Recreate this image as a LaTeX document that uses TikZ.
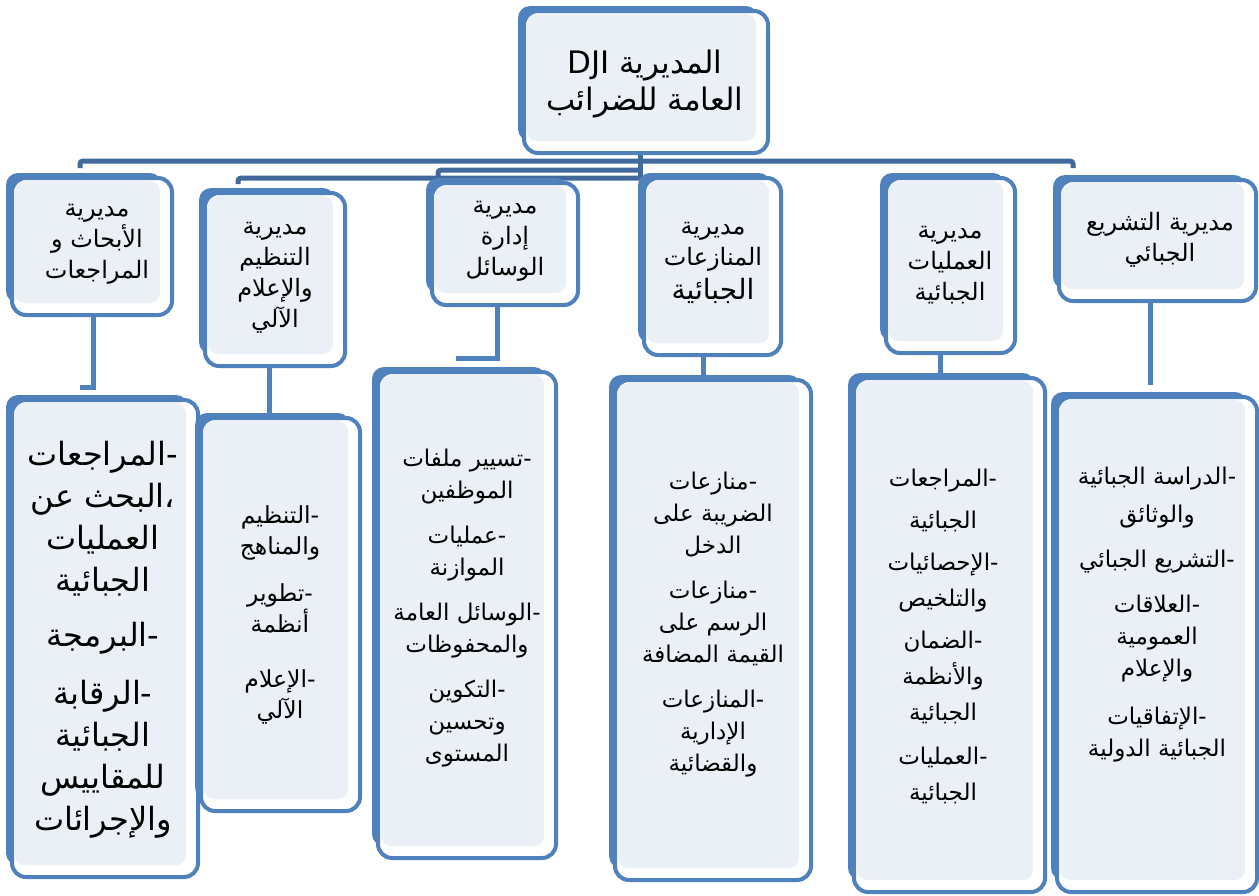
\documentclass[tikz,border=0pt]{standalone}
\usepackage{fontspec}
\usepackage{tikz}
\newfontfamily\arabicfont[Script=Arabic]{DejaVu Sans}
\TeXXeTstate=1
\definecolor{boxblue}{HTML}{4F81BD}
\definecolor{linkblue}{HTML}{41699C}
\definecolor{boxfill}{HTML}{EBF0F7}
\newcommand{\ar}[1]{\beginR #1\endR}
% a task line: the dash stands at the right end of the line
\newcommand{\task}[1]{\beginR #1\endR\mbox{-}}
\newcommand{\dirbox}[4]{%
  \fill[backshape] (#1,#2) rectangle (#3-12,#4-14);
  \draw[frontshape] (#1+6,#2+5) rectangle (#3-2,#4-2);
  \fill[innershape] (#1+9,#2+8) rectangle (#3-14,#4-14);
}
\tikzset{
  backshape/.style={fill=boxblue, rounded corners=12pt},
  frontshape/.style={draw=boxblue, line width=4pt, fill=white, rounded corners=14pt},
  innershape/.style={fill=boxfill, rounded corners=10pt},
  busline/.style={draw=linkblue, line width=5pt, rounded corners=3pt},
  stubline/.style={draw=boxblue, line width=5pt},
  roottext/.style={align=center, inner sep=0pt, font=\arabicfont\fontsize{31}{37}\selectfont},
  toptext/.style={align=center, inner sep=0pt, font=\arabicfont\fontsize{24}{31}\selectfont},
  listtext/.style={align=center, inner sep=0pt, font=\arabicfont\fontsize{23}{32}\selectfont},
  bigtext/.style={align=center, inner sep=0pt, font=\arabicfont\fontsize{32}{42}\selectfont},
}

\begin{document}
\begin{tikzpicture}[x=1pt,y=-1pt]
\useasboundingbox (0,0) rectangle (1259,895);
% bus lines under the root
\coordinate (rootb) at (640,150);
\coordinate (bus1l) at (80,168);
\coordinate (bus1m) at (640,161);
\coordinate (bus1r) at (1073,168);
\coordinate (bus2l) at (438,176);
\coordinate (bus2m) at (640,170);
\coordinate (bus3l) at (238,184);
\coordinate (bus3m) at (640,178);
\draw[busline] (bus1l) |- (bus1m) -| (bus1r);
\draw[busline] (bus2l) |- (bus2m);
\draw[busline] (bus3l) |- (bus3m);
\draw[busline] (rootb) -- (bus3m);
% stubs from the directorates to their task lists
\coordinate (t1s) at (93,310);  \coordinate (t1e) at (80,387);
\coordinate (t2s) at (269,360); \coordinate (t2e) at (269,413);
\coordinate (t3s) at (497,300); \coordinate (t3e) at (456,358);
\coordinate (t4s) at (703,350); \coordinate (t4e) at (703,375);
\coordinate (t5s) at (940,350); \coordinate (t5e) at (940,373);
\coordinate (t6s) at (1150,300); \coordinate (t6e) at (1150,385);
\draw[stubline] (t1s) |- (t1e);
\draw[stubline] (t2s) -- (t2e);
\draw[stubline] (t3s) |- (t3e);
\draw[stubline] (t4s) -- (t4e);
\draw[stubline] (t5s) -- (t5e);
\draw[stubline] (t6s) -- (t6e);
% boxes
\dirbox{518}{6}{770}{155}
\dirbox{6}{173}{174}{317}
\dirbox{199}{188}{347}{368}
\dirbox{426}{178}{580}{307}
\dirbox{638}{173}{783}{357}
\dirbox{880}{173}{1017}{355}
\dirbox{1053}{175}{1258}{303}
\dirbox{6}{395}{200}{879}
\dirbox{195}{413}{362}{813}
\dirbox{372}{367}{558}{860}
\dirbox{609}{375}{813}{882}
\dirbox{848}{373}{1047}{894}
\dirbox{1051}{392}{1259}{894}
% texts
\node[roottext] (root) at (645,84) {\ar{المديرية \beginL DJI\endL{}}\\\ar{العامة للضرائب}};
\node[toptext] (t1) at (97,244) {\ar{مديرية}\\\ar{الأبحاث و}\\\ar{المراجعات}};
\node[toptext] (t2) at (275,278) {\ar{مديرية}\\\ar{التنظيم}\\\ar{والإعلام}\\\ar{الآلي}};
\node[toptext] (t3) at (505,241) {\ar{مديرية}\\\ar{إدارة}\\\ar{الوسائل}};
\node[toptext] (t4) at (713,263) {\ar{مديرية}\\\ar{المنازعات}\\[3pt]{\fontsize{28}{31}\selectfont\ar{الجبائية}}};
\node[toptext] (t5) at (950,265) {\ar{مديرية}\\\ar{العمليات}\\\ar{الجبائية}};
\node[toptext] (t6) at (1160,240) {\ar{مديرية التشريع}\\\ar{الجبائي}};
\node[bigtext] (b1) at (103,640) {\task{المراجعات}\\\ar{البحث عن}\mbox{،}\\\ar{العمليات}\\\ar{الجبائية}\\[13pt]\task{البرمجة}\\[16pt]\task{الرقابة}\\\ar{الجبائية}\\\ar{للمقاييس}\\\ar{والإجرائات}};
\node[listtext, font=\arabicfont\fontsize{23.5}{31}\selectfont] (b2) at (280,615) {\task{التنظيم}\\\ar{والمناهج}\\[16pt]\task{تطوير}\\\ar{أنظمة}\\[24pt]\task{الإعلام}\\\ar{الآلي}};
\node[listtext] (b3) at (467,608) {\task{تسيير ملفات}\\\ar{الموظفين}\\[13pt]\task{عمليات}\\\ar{الموازنة}\\[13pt]\task{الوسائل العامة}\\\ar{والمحفوظات}\\[13pt]\task{التكوين}\\\ar{وتحسين}\\\ar{المستوى}};
\node[listtext] (b4) at (713,625) {\task{منازعات}\\\ar{الضريبة على}\\\ar{الدخل}\\[13pt]\task{منازعات}\\\ar{الرسم على}\\\ar{القيمة المضافة}\\[13pt]\task{المنازعات}\\\ar{الإدارية}\\\ar{والقضائية}};
\node[listtext, font=\arabicfont\fontsize{23}{36}\selectfont] (b5) at (943,636) {\task{المراجعات}\\[6pt]\ar{الجبائية}\\[6pt]\task{الإحصائيات}\\\ar{والتلخيص}\\[6pt]\task{الضمان}\\\ar{والأنظمة}\\\ar{الجبائية}\\[8pt]\task{العمليات}\\\ar{الجبائية}};
\node[listtext] (b6) at (1157,615) {\task{الدراسة الجبائية}\\[6pt]\ar{والوثائق}\\[13pt]\task{التشريع الجبائي}\\[13pt]\task{العلاقات}\\\ar{العمومية}\\\ar{والإعلام}\\[16pt]\task{الإتفاقيات}\\\ar{الجبائية الدولية}};
\end{tikzpicture}
\end{document}
